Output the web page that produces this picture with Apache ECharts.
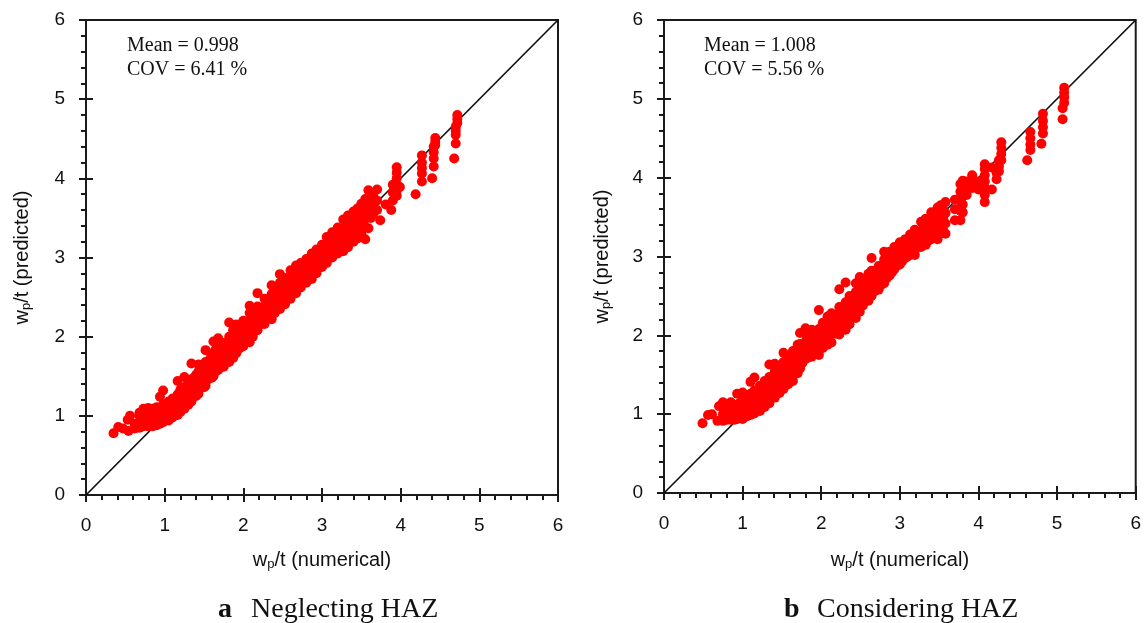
<!DOCTYPE html>
<html><head><meta charset="utf-8">
<style>html,body{margin:0;padding:0;background:#fff}#c{width:1144px;height:623px}</style>
<script src="https://cdn.jsdelivr.net/npm/echarts@6/dist/echarts.min.js"></script>
</head><body><div id="c"></div>
<script>
// Each column: x, then the y values read at that x.
const leftColumns = [
 [0.35,0.78],[0.41,0.86],[0.47,0.84],[0.53,0.95],[0.54,0.81],[0.56,1.0],[0.62,0.84,0.9],[0.68,0.85,0.92,1.0,1.04],
 [0.73,0.87,0.95,1.02,1.09],[0.79,0.87,0.94,1.01,1.1],[0.85,0.87,0.95,1.03,1.09],[0.9,0.88,0.96,1.04,1.11],[0.94,0.9,0.98,1.06,1.24],[0.98,0.92,1.0,1.08,1.14,1.32],
 [1.05,0.94,1.02,1.1,1.18],[1.1,0.98,1.06,1.14,1.22],[1.165,1.01,1.09,1.18,1.27,1.44],[1.2,1.05,1.13,1.22,1.33],[1.25,1.09,1.17,1.26,1.36,1.49],[1.3,1.14,1.22,1.31,1.42],
 [1.34,1.18,1.27,1.36,1.46,1.66],[1.4,1.25,1.33,1.42,1.52],[1.43,1.28,1.37,1.46,1.56,1.65],[1.5,1.36,1.45,1.54,1.65],[1.52,1.38,1.48,1.58,1.68,1.83],[1.6,1.48,1.56,1.65,1.76],[1.62,1.5,1.6,1.7,1.8,1.94],
 [1.68,1.58,1.68,1.78,1.88,1.98],[1.75,1.62,1.72,1.82,1.92],[1.82,1.68,1.78,1.88,2.0,2.18],[1.87,1.73,1.83,1.94,2.08],[1.91,1.79,1.9,2.0,2.155],[2.0,1.88,1.98,2.08,2.2],
 [2.08,1.93,2.03,2.14,2.3,2.39],[2.12,2.0,2.1,2.2,2.32],[2.18,2.08,2.17,2.27,2.38,2.55],[2.27,2.16,2.26,2.36,2.48],[2.36,2.22,2.32,2.42,2.54,2.65],[2.4,2.3,2.4,2.5,2.6],
 [2.465,2.35,2.45,2.56,2.68,2.79],[2.53,2.41,2.51,2.62,2.74],[2.6,2.48,2.58,2.7,2.84],[2.67,2.55,2.66,2.77,2.9],[2.73,2.62,2.72,2.82,2.93],[2.8,2.68,2.78,2.88,2.98],
 [2.87,2.73,2.84,2.95,3.05],[2.93,2.8,2.9,3.0,3.1],[3.0,2.88,2.97,3.06,3.16],[3.06,2.93,3.03,3.14,3.26],[3.13,3.0,3.1,3.2,3.32],[3.2,3.05,3.15,3.27,3.38],
 [3.27,3.08,3.2,3.32,3.48],[3.33,3.13,3.24,3.38,3.53],[3.4,3.2,3.32,3.45,3.58],[3.45,3.24,3.38,3.5,3.62],[3.5,3.3,3.42,3.55,3.68],[3.55,3.23,3.38,3.5,3.62,3.74],
 [3.59,3.37,3.52,3.65,3.85],[3.65,3.55,3.68,3.8],[3.7,3.6,3.72,3.86],[3.74,3.47],[3.81,3.67],[3.88,3.6],[3.9,3.72,3.82,3.92],[3.95,3.78,3.85,3.92,4.0,4.07,4.14],[3.99,3.89],
 [4.19,3.8],[4.27,3.96,4.06,4.13,4.2,4.29],[4.4,4.0],[4.42,4.15,4.25,4.33,4.4],[4.44,4.42,4.46,4.51],[4.68,4.25],[4.7,4.44,4.55,4.6,4.65],[4.72,4.7,4.75,4.8]
];
const leftFill = [
 [0.76,0.91,0.98,1.05],[0.82,0.91,0.98,1.06],[0.88,0.92,0.99,1.07],[0.96,0.94,1.03,1.11],[1.02,0.98,1.06,1.14],[1.08,1.02,1.1,1.18],[1.13,1.05,1.13,1.2],[1.18,1.09,1.18,1.28],
 [1.23,1.13,1.22,1.32],[1.28,1.18,1.27,1.37],[1.33,1.23,1.32,1.41],[1.37,1.29,1.38,1.48],[1.42,1.33,1.42,1.51],[1.47,1.4,1.49,1.58],[1.55,1.46,1.55,1.65],[1.58,1.52,1.62,1.72],
 [1.65,1.56,1.66,1.76,1.84],[1.72,1.62,1.72,1.82],[1.78,1.68,1.78,1.88],[1.85,1.75,1.85,1.96],[1.95,1.85,1.95,2.06],[2.03,1.94,2.04,2.15],[2.1,2.02,2.12,2.23],[2.16,2.08,2.18,2.3],
 [2.23,2.16,2.26,2.37],[2.31,2.24,2.34,2.45],[2.38,2.3,2.4,2.52],[2.44,2.36,2.46,2.58],[2.5,2.42,2.52,2.64],[2.57,2.5,2.6,2.72],[2.63,2.56,2.66,2.78],[2.7,2.62,2.72,2.84],
 [2.77,2.7,2.8,2.9],[2.83,2.74,2.84,2.94],[2.9,2.82,2.92,3.02],[2.97,2.88,2.98,3.08],[3.03,2.95,3.05,3.16],[3.1,3.02,3.12,3.24],[3.17,3.08,3.18,3.3],[3.23,3.12,3.24,3.36],
 [3.3,3.16,3.28,3.42],[3.37,3.22,3.36,3.5],[3.42,3.28,3.42,3.54],[3.48,3.36,3.48,3.6],[3.53,3.44,3.56,3.68],[3.62,3.5,3.6,3.72]
];
const rightColumns = [
 [0.49,0.885],[0.56,0.99],[0.61,1.0],[0.68,0.915],[0.7,1.1],[0.75,0.915,1.0,1.15],[0.8,0.93,1.0,1.07],[0.85,0.93,1.0,1.07,1.15],[0.9,0.93,1.0,1.08],[0.93,0.94,1.02,1.1,1.26],[1.0,0.94,1.02,1.1,1.18,1.275],
 [1.05,0.97,1.05,1.14,1.22],[1.1,0.99,1.08,1.18,1.26,1.41],[1.15,1.01,1.1,1.2,1.3,1.465],[1.22,1.04,1.14,1.25,1.36],[1.28,1.09,1.19,1.3,1.42],[1.34,1.14,1.24,1.35,1.47,1.63],[1.41,1.21,1.31,1.42,1.54,1.64],
 [1.47,1.27,1.38,1.49,1.6],[1.52,1.32,1.43,1.55,1.66,1.78],[1.58,1.38,1.49,1.6,1.73],[1.64,1.42,1.54,1.66,1.8],[1.7,1.52,1.63,1.75,1.88],[1.73,1.58,1.7,1.8,1.89,2.03],[1.8,1.7,1.8,1.92,2.02,2.09],
 [1.88,1.73,1.83,1.95,2.07],[1.97,1.75,1.86,1.98,2.08,2.32],[2.02,1.84,1.95,2.06,2.16],[2.08,1.88,2.0,2.12,2.24],[2.13,1.91,2.03,2.16,2.28],[2.23,2.01,2.12,2.24,2.36,2.585],[2.31,2.07,2.18,2.3,2.42,2.67],
 [2.36,2.14,2.26,2.38,2.5],[2.44,2.22,2.33,2.44,2.55,2.66],[2.49,2.3,2.42,2.54,2.64,2.74],[2.53,2.38,2.48,2.58,2.7],[2.6,2.44,2.55,2.66,2.78],[2.64,2.5,2.6,2.7,2.82,2.98],[2.73,2.58,2.68,2.78,2.88],
 [2.8,2.66,2.76,2.86,2.96,3.06],[2.87,2.76,2.86,2.96,3.06],[2.93,2.84,2.94,3.04,3.12],[3.0,2.9,3.0,3.08,3.18],[3.07,2.98,3.06,3.14,3.22],[3.13,3.02,3.1,3.18,3.28],[3.19,3.02,3.08,3.15,3.24,3.34],
 [3.27,3.12,3.22,3.32,3.44],[3.33,3.15,3.26,3.38,3.48],[3.4,3.22,3.32,3.44,3.56],[3.48,3.22,3.34,3.46,3.62],[3.52,3.3,3.42,3.55,3.65],[3.58,3.29,3.42,3.55,3.69],
 [3.7,3.46,3.6,3.72],[3.77,3.46,3.58,3.7,3.82,3.92],[3.8,3.56,3.66,3.76,3.86,3.96],[3.85,3.78,3.85,3.95],[3.92,3.87,3.95,4.03],[4.0,3.85,3.95],[4.08,3.69,3.78,3.87,3.95,4.03,4.11,4.17],
 [4.17,3.85,4.13],[4.23,3.98,4.06],[4.26,4.08,4.14,4.22],[4.29,4.22,4.3,4.38,4.45],[4.62,4.22],[4.66,4.35,4.42,4.5,4.58],[4.8,4.43],[4.82,4.56,4.64,4.72,4.81],[5.07,4.74,4.88],[5.09,4.95,5.02,5.08,5.14]
];
const rightFill = [
 [0.78,0.96,1.03],[0.83,0.96,1.04,1.1],[0.88,0.96,1.04,1.12],[0.96,0.98,1.06,1.14],[1.03,1.01,1.09,1.18],[1.08,1.03,1.12,1.22],[1.13,1.06,1.15,1.25],[1.18,1.08,1.18,1.29],
 [1.25,1.14,1.24,1.35],[1.31,1.18,1.29,1.4],[1.37,1.24,1.35,1.46],[1.44,1.3,1.4,1.52],[1.5,1.37,1.49,1.6],[1.55,1.42,1.54,1.66],[1.61,1.48,1.6,1.72],[1.67,1.54,1.66,1.78],
 [1.76,1.65,1.76,1.86],[1.84,1.72,1.82,1.94],[1.92,1.79,1.9,2.02],[1.99,1.84,1.95,2.08],[2.05,1.9,2.01,2.14],[2.1,1.96,2.08,2.2],[2.18,2.02,2.14,2.26],[2.26,2.1,2.22,2.34],
 [2.33,2.18,2.3,2.42],[2.4,2.26,2.37,2.5],[2.46,2.32,2.44,2.56],[2.51,2.38,2.5,2.62],[2.56,2.44,2.54,2.66],[2.62,2.5,2.6,2.72],[2.68,2.56,2.66,2.78],[2.76,2.64,2.74,2.84],
 [2.83,2.72,2.82,2.92],[2.9,2.8,2.9,3.0],[2.96,2.88,2.96,3.06],[3.03,2.94,3.02,3.12],[3.1,3.0,3.08,3.18],[3.16,3.08,3.16,3.24],[3.23,3.12,3.2,3.3],[3.3,3.16,3.26,3.36],
 [3.36,3.2,3.3,3.42],[3.43,3.26,3.38,3.5],[3.5,3.4,3.5],[3.55,3.34,3.48,3.6]
];
const diagonal = [[0,0],[6,6]];
const panels = [
 {columns:leftColumns, fill:leftFill, mean:'Mean = 0.998', cov:'COV = 6.41 %', tag:'a', caption:'Neglecting HAZ'},
 {columns:rightColumns, fill:rightFill, mean:'Mean = 1.008', cov:'COV = 5.56 %', tag:'b', caption:'Considering HAZ'}
];
const layouts = [
 {left:86, top:20, width:472, height:475, noteX:127, capX:218, capTextX:251, xGap:55, yGap:53},
 {left:664, top:20, width:475, height:473, noteX:704, capX:784, capTextX:817, xGap:57, yGap:51}
];
const sans='"Liberation Sans", Arial, sans-serif', serif='"Liberation Serif", "Times New Roman", serif';
const rich={a:{fontFamily:sans,fontSize:20,color:'#111'},s:{fontFamily:sans,fontSize:13,color:'#111',padding:[8,0,0,0]}};
const line={lineStyle:{color:'#1a1a1a',width:2}};
function mkAxis(gi,name,kind,over,gap){
 const base={type:'value',gridIndex:gi,min:0,max:6,interval:1,position:kind==='x'?'bottom':'left',
  axisLine:{show:true,onZero:false,...line},splitLine:{show:false},minorSplitLine:{show:false}};
 if(over) return {...base,name:'',axisLabel:{show:false},axisTick:{show:true,inside:true,length:7,...line},minorTick:{show:false}};
 return {...base,name:name,nameLocation:'middle',nameGap:gap,nameTextStyle:{rich:rich},
  axisLabel:{color:'#111',fontFamily:sans,fontSize:19,margin:21},
  axisTick:{show:true,inside:false,length:7,...line},
  minorTick:{show:true,splitNumber:5,length:5,...line}};
}
const grid=[],xAxis=[],yAxis=[],series=[],graphic=[];
panels.forEach((p,i)=>{
 const L=layouts[i];
 grid.push({left:L.left,top:L.top,width:L.width,height:L.height,show:true,borderColor:'#1a1a1a',borderWidth:2,backgroundColor:'transparent'});
 xAxis.push(mkAxis(i,'{a|w}{s|p}{a|/t (numerical)}','x',false,L.xGap),mkAxis(i,'','x',true));
 yAxis.push(mkAxis(i,'{a|w}{s|p}{a|/t (predicted)}','y',false,L.yGap),mkAxis(i,'','y',true));
 const pts=p.columns.concat(p.fill).flatMap(c=>c.slice(1).map(y=>[c[0],y]));
 series.push({type:'line',xAxisIndex:2*i,yAxisIndex:2*i,data:diagonal,symbol:'none',silent:true,lineStyle:{color:'#111',width:1.7},z:2});
 series.push({type:'scatter',xAxisIndex:2*i,yAxisIndex:2*i,data:pts,symbol:'circle',symbolSize:10,itemStyle:{color:'#ff0000',opacity:1},z:3});
 graphic.push(
  {type:'text',left:L.noteX,top:36,style:{text:p.mean,font:'20px '+serif,fill:'#111'}},
  {type:'text',left:L.noteX,top:60,style:{text:p.cov,font:'20px '+serif,fill:'#111'}},
  {type:'text',left:L.capX,top:596,style:{text:p.tag,font:'bold 28px '+serif,fill:'#111'}},
  {type:'text',left:L.capTextX,top:596,style:{text:p.caption,font:'28px '+serif,fill:'#111'}}
 );
});
const chart=echarts.init(document.getElementById('c'),null,{renderer:'canvas'});
chart.setOption({animation:false,backgroundColor:'#fff',grid,xAxis,yAxis,series,graphic});
</script></body></html>
